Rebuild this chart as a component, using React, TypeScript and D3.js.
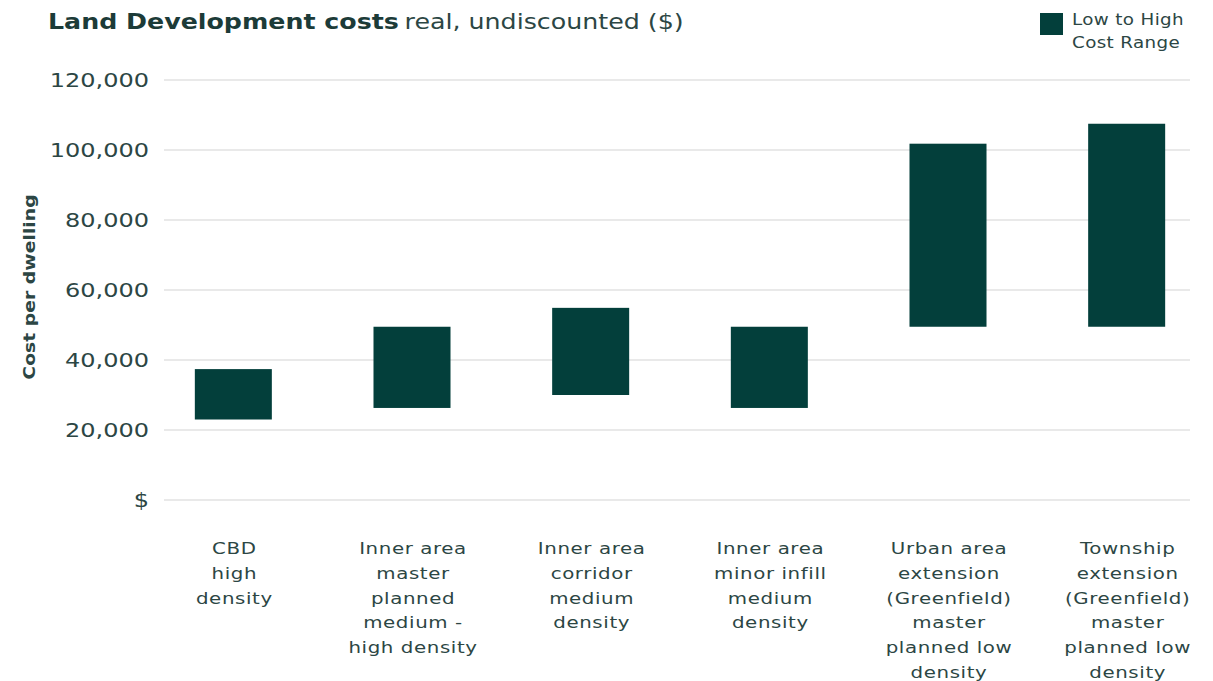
import React from "react";
import * as d3 from "d3";

const categories: string[][] = [
  ["CBD", "high", "density"],
  ["Inner area", "master", "planned", "medium -", "high density"],
  ["Inner area", "corridor", "medium", "density"],
  ["Inner area", "minor infill", "medium", "density"],
  ["Urban area", "extension", "(Greenfield)", "master", "planned low", "density"],
  ["Township", "extension", "(Greenfield)", "master", "planned low", "density"],
];
const lowValues = [23000, 26300, 30000, 26300, 49500, 49500];
const highValues = [37400, 49500, 54900, 49500, 101800, 107500];
const yTicks = [0, 20000, 40000, 60000, 80000, 100000, 120000];
const yTickLabels = ["$", "20,000", "40,000", "60,000", "80,000", "100,000", "120,000"];

const W = 1213;
const H = 681;
const FONT = "'DejaVu Sans', sans-serif";
const TEXT = "#2c4644";
const BAR = "#033f3b";

export default function App() {
  const idx = categories.map((_, i) => String(i));
  const x = d3.scaleBand<string>().domain(idx).range([144, 1216]).paddingInner(0.569).paddingOuter(0.2845);
  const y = d3.scaleLinear().domain([0, 120000]).range([500, 80]);

  return (
    <svg width={W} height={H} style={{ position: "absolute", left: 0, top: 0, background: "#fff" }} fontFamily={FONT}>
      <g transform="translate(48,29) scale(1.15,1)">
        <text x={0} y={0} fontSize={22} fill="#1c3b38">
          <tspan fontWeight="bold">Land Development costs</tspan>
          <tspan dx={5} fill={TEXT}>real, undiscounted ($)</tspan>
        </text>
      </g>
      {/* legend */}
      <rect x={1040} y={13} width={23} height={22} fill={BAR} />
      <g transform="translate(1072,0) scale(1.22,1)">
        <text x={0} y={25} fontSize={15} fill={TEXT} letterSpacing={0.3}>Low to High</text>
        <text x={0} y={48} fontSize={15} fill={TEXT} letterSpacing={0.3}>Cost Range</text>
      </g>

      {/* y axis label */}
      <g transform="translate(35,287) rotate(-90) scale(1.14,1)">
        <text x={0} y={0} textAnchor="middle" fontSize={16.5} fontWeight="bold" fill={TEXT}>
          Cost per dwelling
        </text>
      </g>

      {yTicks.map((t, i) => (
        <g key={t}>
          <line x1={164} x2={1190} y1={y(t)} y2={y(t)} stroke="#e9e9e9" strokeWidth={2} />
          <g transform={`translate(149,${y(t)}) scale(1.2,1)`}>
            <text x={0} y={0} dy="0.36em" textAnchor="end" fontSize={20} fill={TEXT}>
              {yTickLabels[i]}
            </text>
          </g>
        </g>
      ))}

      {idx.map((k, i) => (
        <rect
          key={k}
          x={x(k)}
          y={y(highValues[i])}
          width={x.bandwidth()}
          height={y(lowValues[i]) - y(highValues[i])}
          fill={BAR}
        />
      ))}

      {idx.map((k, i) => (
        <g key={k} transform={`translate(${(x(k) as number) + x.bandwidth() / 2 + 1},0) scale(1.2,1)`}>
          <text textAnchor="middle" fontSize={16.5} fill={TEXT} letterSpacing={0.5}>
            {categories[i].map((line, j) => (
              <tspan key={j} x={0} y={554 + j * 24.8}>
                {line}
              </tspan>
            ))}
          </text>
        </g>
      ))}
    </svg>
  );
}
